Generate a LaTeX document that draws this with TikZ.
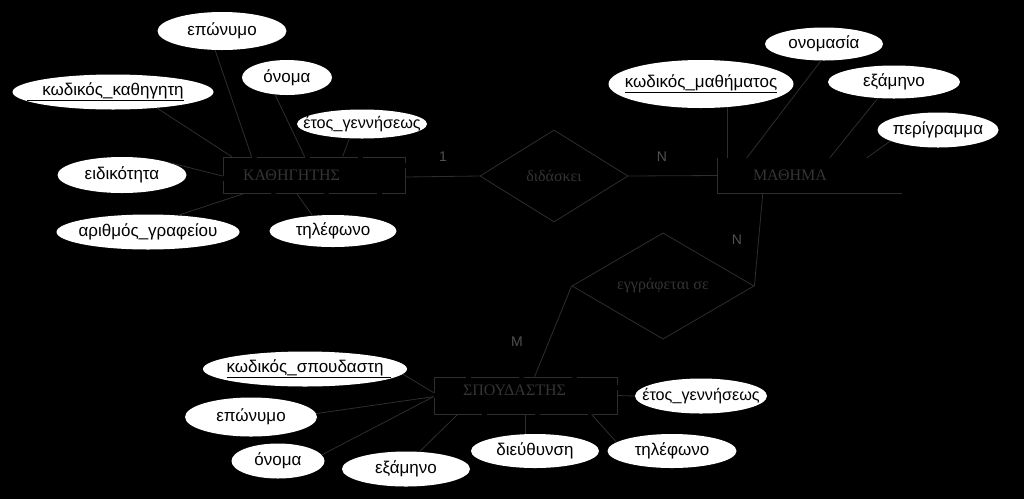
\documentclass[tikz,border=0pt]{standalone}
\usepackage{fontspec}
\setmainfont{Liberation Sans}
\newfontfamily\serifgr{Liberation Serif}
\usetikzlibrary{shapes.geometric,calc}
\definecolor{linecol}{RGB}{46,46,46}
\definecolor{txtcol}{RGB}{52,52,52}
\definecolor{lblcol}{RGB}{80,80,80}
\newcommand\zw[1]{\makebox[0pt]{#1}}
\begin{document}
\begin{tikzpicture}[x=1pt,y=-1pt,
  attr/.style={ellipse, fill=white, inner sep=0pt, font=\fontsize{17}{20}\selectfont, text=black},
  narrowtxt/.style={font=\fontsize{16.2}{19}\selectfont},
  entity/.style={rectangle, inner sep=0pt, minimum width=184pt, font=\serifgr\fontsize{16}{19}\selectfont, text=txtcol},
  entbox/.style={draw=linecol, line width=0.8pt, dash pattern=on 48pt off 5pt},
  rel/.style={diamond, draw=linecol, line width=0.8pt, inner sep=0pt, font=\serifgr\fontsize{16}{19}\selectfont, text=txtcol},
  conn/.style={draw=linecol, line width=0.8pt},
  card/.style={font=\fontsize{14}{16}\selectfont, text=lblcol, inner sep=0pt}]
\useasboundingbox (0,0) rectangle (1024,499);
\fill[black] (0,0) rectangle (1024,499);

% entities
\node[entity, entbox, minimum width=182pt, minimum height=36pt] (kth) at (314,175) {\makebox[182pt][l]{\hspace{20pt}\raisebox{-3pt}{ΚΑΘΗΓΗΤΗΣ}}};
\node[entity, minimum height=35pt] (mth) at (810,175.5) {\makebox[184pt][l]{\hspace{35pt}\raisebox{1pt}{ΜΑΘΗΜΑ}}};
\node[entity, entbox, minimum width=183pt, minimum height=37pt] (sp) at (525.5,395.5) {\makebox[183pt][l]{\hspace{29pt}\raisebox{10pt}{ΣΠΟΥΔΑΣΤΗΣ}}};

% relationships
\node[rel, minimum width=148pt, minimum height=92pt] (dd) at (554,176) {διδάσκει};
\node[rel, minimum width=182pt, minimum height=92pt] (eg) at (663,286) {εγγράφεται σε};

% attributes of ΚΑΘΗΓΗΤΗΣ
\node[attr, minimum width=129pt, minimum height=38pt] (ep1) at (222,31) {\zw{επώνυμο}};
\node[attr, minimum width=201pt, minimum height=35pt] (kk) at (113,92) {\zw{\hspace{-15pt}\underline{\hspace{15pt}κωδικός\_καθηγητη}}};
\node[attr, minimum width=90pt, minimum height=35pt] (on1) at (287,77.5) {\zw{όνομα}};
\node[attr, narrowtxt, minimum width=130pt, minimum height=29pt] (et1) at (362,124) {\zw{έτος\_γεννήσεως}};
\node[attr, minimum width=129pt, minimum height=36pt] (ei) at (122,175) {\zw{ειδικότητα}};
\node[attr, minimum width=183pt, minimum height=35pt] (ag) at (148,232) {\zw{αριθμός\_γραφείου}};
\node[attr, minimum width=127pt, minimum height=32pt] (tl1) at (333,231) {\zw{τηλέφωνο}};

% attributes of ΜΑΘΗΜΑ
\node[attr, minimum width=185pt, minimum height=48pt] (km) at (701,84) {\zw{\raisebox{6pt}{\underline{κωδικός\_μαθήματος}}}};
\node[attr, minimum width=118pt, minimum height=33pt] (onm) at (824,44) {\zw{ονομασία}};
\node[attr, minimum width=132pt, minimum height=33pt] (ex1) at (894,82) {\zw{εξάμηνο}};
\node[attr, minimum width=121pt, minimum height=35pt] (pg) at (938,130) {\zw{περίγραμμα}};

% attributes of ΣΠΟΥΔΑΣΤΗΣ
\node[attr, minimum width=204pt, minimum height=35pt] (ks) at (305,369) {\zw{\underline{κωδικός\_σπουδαστη\hspace{8pt}}\hspace{-8pt}}};
\node[attr, minimum width=132pt, minimum height=39pt] (ep2) at (251,417) {\zw{επώνυμο}};
\node[attr, minimum width=93pt, minimum height=35pt] (on2) at (278,461) {\zw{όνομα}};
\node[attr, minimum width=128pt, minimum height=35pt] (ex2) at (406,469) {\zw{εξάμηνο}};
\node[attr, minimum width=128pt, minimum height=34pt] (di) at (535,451) {\zw{διεύθυνση}};
\node[attr, minimum width=129pt, minimum height=34pt] (tl2) at (672,451) {\zw{τηλέφωνο}};
\node[attr, narrowtxt, minimum width=132pt, minimum height=35pt] (et2) at (701,396) {\zw{έτος\_γεννήσεως}};

% cardinalities
\node[card] (c1) at (443,157) {1};
\node[card] (c2) at (662,157) {N};
\node[card] (c3) at (737,240) {N};
\node[card] (c4) at (517,342) {M};

% ΜΑΘΗΜΑ visible edges
\draw[conn] (mth.north west) -- (mth.south west) -- (mth.south east);

% connectors ΚΑΘΗΓΗΤΗΣ
\draw[conn] (kk.-20) -- ([xshift=9pt]kth.north west);
\draw[conn] (ep1.-110) -- ([xshift=29pt]kth.north west);
\draw[conn] (on1.-125) -- ([xshift=82pt]kth.north west);
\draw[conn] (et1.-131) -- ([xshift=120pt]kth.north west);
\draw[conn] (ei.15) -- ([yshift=-1pt]kth.west);
\draw[conn] (ag.29) -- ([xshift=22pt]kth.south west);
\draw[conn] (tl1.143) -- ([xshift=74pt]kth.south west);

% relationship connectors
\draw[conn] ([yshift=-2pt]kth.east) -- (dd.west);
\draw[conn] (dd.east) -- (mth.west);
\draw[conn] ([xshift=45pt]mth.south west) -- (eg.east);
\draw[conn] (eg.west) -- ([xshift=101pt]sp.north west);

% connectors ΜΑΘΗΜΑ
\draw[conn] (km.-41.5) -- (km.-41.5 |- mth.north);
\draw[conn] (onm.-100) -- ([xshift=29pt]mth.north west);
\draw[conn] (ex1.-135) -- ([xshift=112pt]mth.north west);
\draw[conn] (pg.-167) -- ([xshift=149pt]mth.north west);

% connectors ΣΠΟΥΔΑΣΤΗΣ
\draw[conn] (ks.-3) -- ([yshift=-16pt]sp.north west);
\draw[conn] (ep2.3) -- ([yshift=-20pt]sp.north west);
\draw[conn] (on2.8) -- ([yshift=-20pt]sp.north west);
\draw[conn] (ex2.52) -- ([xshift=24pt]sp.south west);
\draw[conn] ([xshift=92pt]sp.south west) -- ([xshift=92pt]sp.south west |- di.north);
\draw[conn] (tl2.171) -- ([xshift=158pt]sp.south west);
\draw[conn] (sp.east) -- (et2.west);
\end{tikzpicture}
\end{document}
